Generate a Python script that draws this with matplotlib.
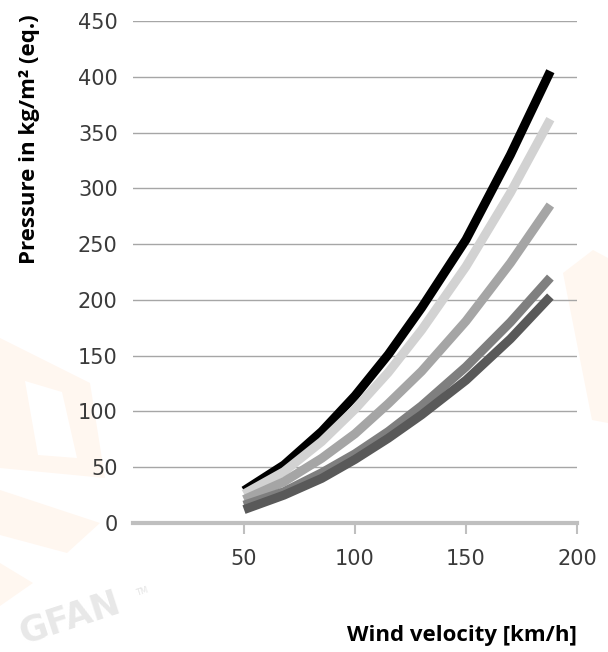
import matplotlib
matplotlib.use("Agg")
from matplotlib import pyplot as plt
from matplotlib.patches import Polygon

# Wind velocity in km/h
velocity = [50, 68, 85, 100, 115, 130, 150, 170, 188]

# Pressure in kg/m2 (eq.), one list per curve
pressure_black = [29, 52, 82, 114, 151, 193, 254, 330, 405]
pressure_light = [26, 46, 73, 102, 135, 173, 230, 296, 362]
pressure_mid = [21, 37, 58, 80, 107, 136, 181, 233, 285]
pressure_dark = [16, 28, 45, 62, 82, 105, 140, 180, 220]
pressure_darkest = [12, 25, 40, 57, 76, 97, 128, 165, 203]

series = [pressure_black, pressure_light, pressure_mid, pressure_dark, pressure_darkest]
colors = ["#000000", "#d2d2d2", "#a5a5a5", "#7f7f7f", "#595959"]

y_ticks = [0, 50, 100, 150, 200, 250, 300, 350, 400, 450]
x_ticks = [50, 100, 150, 200]

W, H = 608, 652
fig = plt.figure(figsize=(W / 100, H / 100), dpi=100)

# faint watermark shapes behind everything (pixel coords -> figure fraction)
def px(points):
    return [(x / W, 1 - y / H) for x, y in points]

wm = "#fff7f0"
shapes = [
    [(0, 338), (90, 383), (105, 478), (0, 468)],
    [(0, 490), (100, 523), (67, 553), (0, 535)],
    [(0, 563), (33, 583), (0, 606)],
    [(563, 273), (593, 250), (608, 258), (608, 423), (592, 420)],
]
for s in shapes:
    fig.patches.append(Polygon(px(s), closed=True, facecolor=wm, edgecolor="none",
                               transform=fig.transFigure, zorder=-5))
# hole in the first shape
fig.patches.append(Polygon(px([(25, 381), (62, 392), (77, 458), (38, 455)]), closed=True,
                           facecolor="white", edgecolor="none",
                           transform=fig.transFigure, zorder=-4))

fig.text(70 / W, 1 - 618 / H, "GFAN", fontsize=25, fontweight="heavy",
         family="DejaVu Sans", color="#e8e8e8", rotation=18,
         ha="center", va="center", zorder=-3)
fig.text(142 / W, 1 - 592 / H, "TM", fontsize=6, color="#e4e4e4",
         rotation=18, ha="center", va="center", zorder=-3)

ax = fig.add_axes([133 / W, 1 - 523 / H, (577 - 133) / W, (523 - 21) / H])
ax.set_facecolor("none")
ax.set_zorder(2)

for values, c in zip(series, colors):
    ax.plot(velocity, values, color=c, lw=6.5, solid_capstyle="butt",
            solid_joinstyle="miter", clip_on=False)

ax.set_xlim(0, 200)
ax.set_ylim(0, 450)
ax.set_xticks(x_ticks)
ax.set_yticks(y_ticks)

for side in ["top", "right", "left"]:
    ax.spines[side].set_visible(False)
ax.spines["bottom"].set_color("#bfbfbf")
ax.spines["bottom"].set_linewidth(3)

ax.yaxis.grid(True, color="#a6a6a6", lw=1)
ax.set_axisbelow(True)

ax.tick_params(axis="y", length=0, pad=11, labelsize=15, labelcolor="#3a3a3a")
ax.tick_params(axis="x", length=8, width=1.5, color="#bfbfbf", pad=11,
               labelsize=15, labelcolor="#3a3a3a")
for lbl in ax.get_xticklabels() + ax.get_yticklabels():
    lbl.set_family("DejaVu Sans")

font = "Open Sans"
fig.text(30 / W, 1 - 139 / H, "Pressure in kg/m\u00b2 (eq.)", rotation=90,
         ha="center", va="center", fontsize=16, fontweight="bold", family=font)
fig.text(577 / W, 1 - 635 / H, "Wind velocity [km/h]", ha="right", va="center",
         fontsize=16, fontweight="bold", family=font)

fig.savefig("out.png", dpi=100)
